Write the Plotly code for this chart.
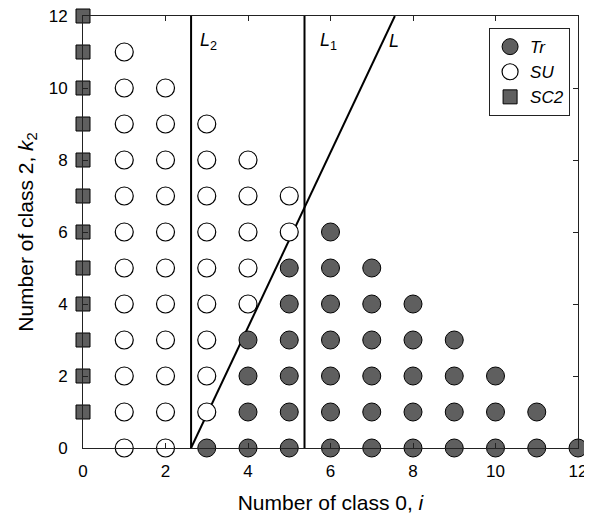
import plotly.graph_objects as go

# Data
tr_points = {0: list(range(3, 13)), 1: list(range(4, 12)), 2: list(range(4, 11)),
             3: list(range(4, 10)), 4: list(range(5, 9)), 5: [5, 6, 7], 6: [6]}
su_points = {0: [1, 2], 1: [1, 2, 3], 2: [1, 2, 3], 3: [1, 2, 3], 4: [1, 2, 3, 4],
             5: [1, 2, 3, 4], 6: [1, 2, 3, 4, 5], 7: [1, 2, 3, 4, 5], 8: [1, 2, 3, 4],
             9: [1, 2, 3], 10: [1, 2], 11: [1]}
sc2_k2 = list(range(1, 13))
L2_x = 2.62
L1_x = 5.37
L_x = [2.62, 7.56]
L_y = [0, 12]
x_ticks = [0, 2, 4, 6, 8, 10, 12]
y_ticks = [0, 2, 4, 6, 8, 10, 12]

tr_x = [i for k, lst in tr_points.items() for i in lst]
tr_y = [k for k, lst in tr_points.items() for i in lst]
su_x = [i for k, lst in su_points.items() for i in lst]
su_y = [k for k, lst in su_points.items() for i in lst]

fig = go.Figure()
line_style = dict(color="black", width=2)
fig.add_trace(go.Scatter(x=[L2_x, L2_x], y=[0, 12], mode="lines", line=line_style,
                         showlegend=False, hoverinfo="skip"))
fig.add_trace(go.Scatter(x=[L1_x, L1_x], y=[0, 12], mode="lines", line=line_style,
                         showlegend=False, hoverinfo="skip"))
fig.add_trace(go.Scatter(x=L_x, y=L_y, mode="lines", line=line_style,
                         showlegend=False, hoverinfo="skip"))

fig.add_trace(go.Scatter(x=tr_x, y=tr_y, mode="markers", name="<i>Tr</i>", cliponaxis=False,
                         marker=dict(symbol="circle", size=18, color="#5f5f5f",
                                     line=dict(color="black", width=1))))
fig.add_trace(go.Scatter(x=su_x, y=su_y, mode="markers", name="<i>SU</i>", cliponaxis=False,
                         marker=dict(symbol="circle", size=18, color="white",
                                     line=dict(color="black", width=1.2))))
fig.add_trace(go.Scatter(x=[0] * len(sc2_k2), y=sc2_k2, mode="markers", name="<i>SC2</i>",
                         cliponaxis=False,
                         marker=dict(symbol="square", size=14, color="#5f5f5f",
                                     line=dict(color="black", width=1))))

for txt, xx in [("<i>L</i><sub>2</sub>", 3.05), ("<i>L</i><sub>1</sub>", 5.95), ("<i>L</i>", 7.55)]:
    fig.add_annotation(x=xx, y=11.3, text=txt, showarrow=False,
                       font=dict(size=18, color="black"), xanchor="center", yanchor="middle")

axis_common = dict(showgrid=False, zeroline=False, showline=True, linecolor="#222",
                   linewidth=1, mirror="ticks", ticks="inside", ticklen=5, tickcolor="#222",
                   tickfont=dict(size=17, color="black"), automargin=False,
                   ticklabeloverflow="allow")
fig.update_xaxes(range=[0, 12], tickvals=x_ticks, ticktext=[str(v) for v in x_ticks],
                 ticklabelstandoff=8,
                 title=dict(text="Number of class 0, <i>i</i>", font=dict(size=21, color="black"),
                            standoff=14), **axis_common)
fig.update_yaxes(range=[0, 12], tickvals=y_ticks, ticktext=[str(v) for v in y_ticks],
                 ticklabelstandoff=11,
                 title=dict(text="Number of class 2, <i>k</i><sub>2</sub>",
                            font=dict(size=21, color="black"), standoff=9), **axis_common)

# the page body adds an 8px offset, so the figure is sized/placed to compensate
fig.update_layout(
    width=584, height=508,
    margin=dict(l=75, r=14, t=8, b=68),
    paper_bgcolor="white", plot_bgcolor="white",
    font=dict(family="Liberation Sans, Arial, sans-serif", color="black"),
    legend=dict(x=0.984, y=0.972, xanchor="right", yanchor="top", bordercolor="#222",
                borderwidth=1, bgcolor="white", font=dict(size=17),
                itemsizing="trace", tracegroupgap=0, itemwidth=30),
)

fig.write_html("out.html")
